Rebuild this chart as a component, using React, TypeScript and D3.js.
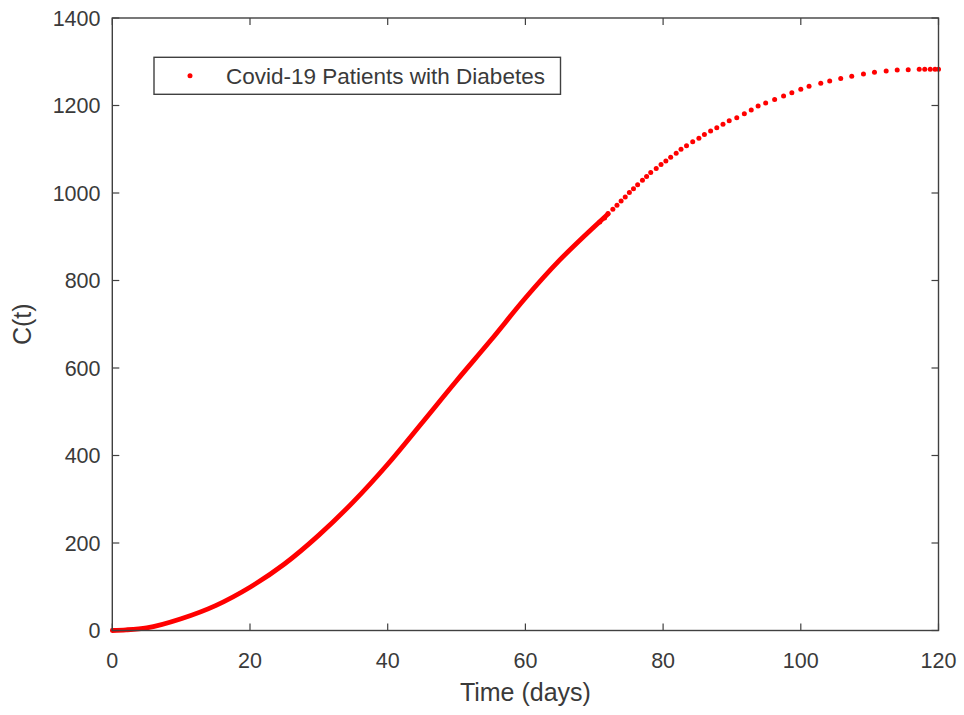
import React from "react";
import * as d3 from "d3";

// Solid (densely sampled) part of the solution curve
const curveDays = [0, 2, 5, 10, 15, 20, 25, 30, 35, 40, 45, 50, 55, 60, 65, 70, 72];
const curveCases = [0, 1.5, 6, 27, 57, 99, 152, 218, 294, 380, 475, 571, 664, 760, 847, 923, 952];

// Solver output points where the step size opens up
const dotDays = [
  70.8, 71.5, 72.0, 72.7, 73.3, 73.9, 74.5, 75.1, 75.7, 76.3, 77.0, 77.6, 78.2, 79.0, 79.7,
  80.4, 81.1, 81.9, 82.6, 83.4, 84.3, 85.2, 86.0, 86.9, 87.8, 88.7, 89.6, 90.7, 91.8, 92.8,
  93.8, 94.9, 96.2, 97.5, 98.7, 100.0, 101.2, 102.9, 104.2, 105.8, 107.4, 109.1, 110.7,
  112.4, 114.0, 115.6, 117.2, 118.0, 118.8, 119.5, 120,
];
const dotCases = [
  934, 943, 953, 963, 972, 982, 991, 1001, 1010, 1019, 1029, 1038, 1047, 1056, 1065,
  1073, 1082, 1091, 1100, 1108, 1117, 1125, 1134, 1142, 1149, 1157, 1165, 1172, 1181, 1190,
  1199, 1206, 1214, 1222, 1229, 1237, 1244, 1251, 1256, 1262, 1267, 1272, 1276,
  1279, 1281, 1282, 1283, 1283, 1283, 1283, 1283,
];

const xTicks = [0, 20, 40, 60, 80, 100, 120];
const yTicks = [0, 200, 400, 600, 800, 1000, 1200, 1400];
const seriesName = "Covid-19 Patients with Diabetes";

const W = 964;
const H = 715;
const left = 112.3;
const right = 938.5;
const top = 18;
const bottom = 630.5;
const font = "'Liberation Sans', Arial, Helvetica, sans-serif";
const axisColor = "#404040";
const textColor = "#3a3a3a";
const red = "#ff0000";
const tickLen = 7;
const dotR = 2.5;

export default function App() {
  const x = d3.scaleLinear().domain([0, 120]).range([left, right]);
  const y = d3.scaleLinear().domain([0, 1400]).range([bottom, top]);

  const curvePts = curveDays.map((d, i) => [d, curveCases[i]] as [number, number]);
  const line = d3
    .line<[number, number]>()
    .x((d) => x(d[0]))
    .y((d) => y(d[1]))
    .curve(d3.curveMonotoneX);

  return (
    <svg
      width={W}
      height={H}
      style={{ position: "absolute", left: 0, top: 0, background: "#fff" }}
      fontFamily={font}
    >
      <rect x={0} y={0} width={W} height={H} fill="#fff" />

      {/* series */}
      <path
        d={line(curvePts) || ""}
        fill="none"
        stroke={red}
        strokeWidth={4.8}
        strokeLinecap="round"
        strokeLinejoin="round"
      />
      {dotDays.map((d, i) => (
        <circle key={i} cx={x(d)} cy={y(dotCases[i])} r={dotR} fill={red} />
      ))}

      {/* axes box */}
      <rect
        x={left}
        y={top}
        width={right - left}
        height={bottom - top}
        fill="none"
        stroke={axisColor}
        strokeWidth={1.4}
      />

      {/* x ticks */}
      {xTicks.map((t) => (
        <g key={"x" + t}>
          <line x1={x(t)} x2={x(t)} y1={bottom} y2={bottom - tickLen} stroke={axisColor} strokeWidth={1.2} />
          <line x1={x(t)} x2={x(t)} y1={top} y2={top + tickLen} stroke={axisColor} strokeWidth={1.2} />
          <text x={x(t)} y={bottom + 37} textAnchor="middle" fontSize={21.5} fill={textColor}>
            {t}
          </text>
        </g>
      ))}

      {/* y ticks */}
      {yTicks.map((t) => (
        <g key={"y" + t}>
          <line x1={left} x2={left + tickLen} y1={y(t)} y2={y(t)} stroke={axisColor} strokeWidth={1.2} />
          <line x1={right} x2={right - tickLen} y1={y(t)} y2={y(t)} stroke={axisColor} strokeWidth={1.2} />
          <text x={100.5} y={y(t) + 7.8} textAnchor="end" fontSize={21.5} fill={textColor}>
            {t}
          </text>
        </g>
      ))}

      {/* axis labels */}
      <text x={(left + right) / 2} y={701} textAnchor="middle" fontSize={25} fill={textColor}>
        Time (days)
      </text>
      <text
        transform={`translate(31, ${(top + bottom) / 2}) rotate(-90)`}
        textAnchor="middle"
        fontSize={25}
        fill={textColor}
      >
        C(t)
      </text>

      {/* legend */}
      <rect x={154} y={57.3} width={406.5} height={37} fill="#fff" stroke={axisColor} strokeWidth={1.4} />
      <circle cx={190} cy={75.7} r={dotR} fill={red} />
      <text x={226} y={83.6} fontSize={22.5} fill={textColor}>
        {seriesName}
      </text>
    </svg>
  );
}
